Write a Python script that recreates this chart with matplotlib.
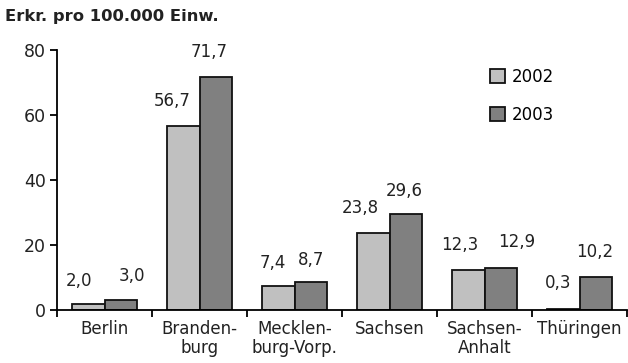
import matplotlib as mpl
import numpy as np
import matplotlib.pyplot as plt

mpl.rcParams['font.family'] = ['DejaVu Sans']

laender = ["Berlin", "Branden-\nburg", "Mecklen-\nburg-Vorp.", "Sachsen",
           "Sachsen-\nAnhalt", "Thüringen"]
werte_2002 = [2.0, 56.7, 7.4, 23.8, 12.3, 0.3]
werte_2003 = [3.0, 71.7, 8.7, 29.6, 12.9, 10.2]
jahre = ["2002", "2003"]

# label shifts in pixels (dx, dy) relative to bar top centre
shift_2002 = [(-9, 23), (-11, 25), (-6, 23), (-13, 25), (-9, 25), (-5, 26)]
shift_2003 = [(11, 24), (-6, 25), (1, 22), (-1, 23), (16, 26), (-1, 25)]

fig = plt.figure(figsize=(6.28, 3.63), dpi=100)
ax = fig.add_axes([57 / 628, 1 - 310 / 363, 570 / 628, 260 / 363])

x = np.arange(len(laender))
w = 0.337
ax.bar(x - w / 2, werte_2002, w, color="#c0c0c0", edgecolor="#111111", linewidth=1.3, label=jahre[0])
ax.bar(x + w / 2, werte_2003, w, color="#808080", edgecolor="#111111", linewidth=1.3, label=jahre[1])

def fmt(v):
    return f"{v:.1f}".replace(".", ",")

for i in range(len(laender)):
    for v, xi, (dx, dy) in [(werte_2002[i], x[i] - w / 2, shift_2002[i]),
                            (werte_2003[i], x[i] + w / 2, shift_2003[i])]:
        ax.annotate(fmt(v), (xi, v), xytext=(dx, dy), textcoords="offset pixels",
                    ha="center", va="center", fontsize=12, color="#222222")

ax.set_xlim(-0.5, len(laender) - 0.5)
ax.set_ylim(0, 80)
ax.set_yticks([0, 20, 40, 60, 80])
ax.tick_params(axis="y", labelsize=12.5, length=5, width=1.3, direction="out", pad=3,
               labelcolor="#222222")

ax.set_xticks(np.arange(len(laender) + 1) - 0.5)
ax.set_xticklabels([])
ax.set_xticks(x, minor=True)
ax.set_xticklabels(laender, minor=True, fontsize=12, linespacing=1.12, color="#222222")
ax.tick_params(axis="x", which="minor", length=0, pad=7)
ax.tick_params(axis="x", which="major", length=5, width=1.3, direction="out")

for s in ["top", "right"]:
    ax.spines[s].set_visible(False)
ax.spines["left"].set_linewidth(1.3)
ax.spines["bottom"].set_linewidth(1.3)

ax.legend(loc="upper left", bbox_to_anchor=(490 / 628, 1 - 68 / 363), bbox_transform=fig.transFigure,
          frameon=False, fontsize=12, borderpad=0, borderaxespad=0,
          handlelength=0.9, handleheight=0.9, handletextpad=0.42, labelspacing=1.17)

fig.text(5 / 628, 1 - 16 / 363, "Erkr. pro 100.000 Einw.", fontsize=11.8, fontweight="bold",
         va="center", color="#222222")

plt.savefig("out.png", dpi=100)
